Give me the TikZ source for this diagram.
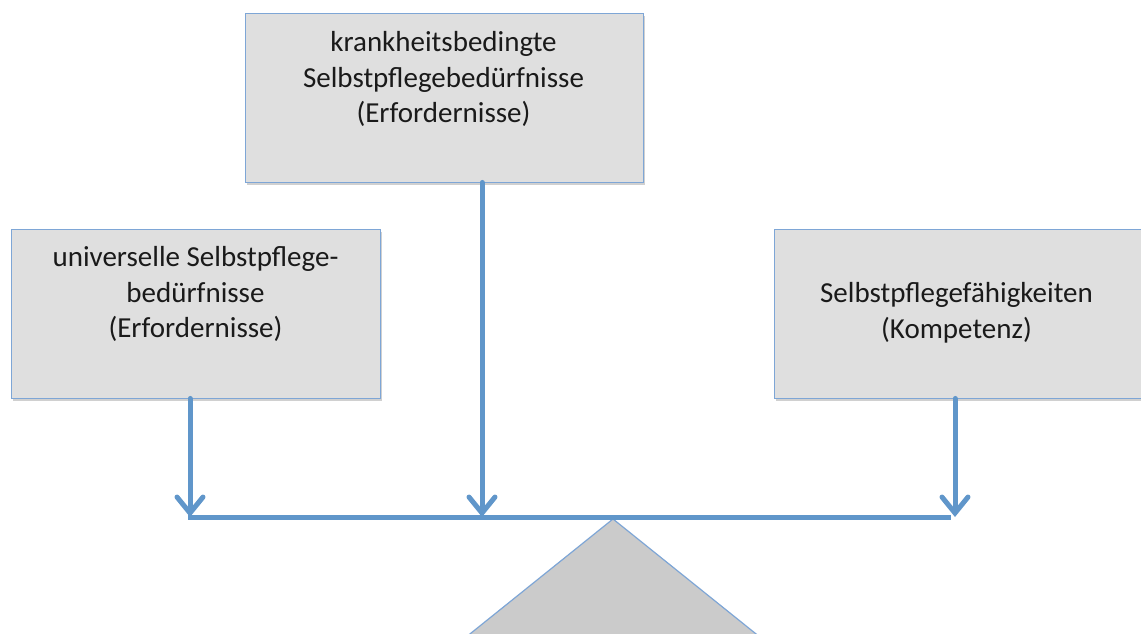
\documentclass[tikz,border=0pt]{standalone}
\usepackage{fontspec}
\setmainfont{Carlito}
\usetikzlibrary{arrows.meta,shadows}
\definecolor{linkblue}{HTML}{6096CA}
\definecolor{edgeblue}{HTML}{7EA6D6}
\definecolor{boxgray}{HTML}{DFDFDF}
\definecolor{trigray}{HTML}{CBCBCB}
\definecolor{textgray}{HTML}{1A1A1A}
\tikzset{
  box/.style={draw=edgeblue, line width=0.9pt, fill=boxgray, minimum height=169pt,
    inner sep=0pt,
    drop shadow={shadow xshift=2pt, shadow yshift=-3pt, opacity=0.3, fill=black!60}},
  boxtext/.style={anchor=base, align=center, inner sep=0pt, text=textgray,
    font=\fontsize{29}{35.4}\selectfont},
  link/.style={draw=linkblue, line width=5pt, line cap=round},
  linkarrow/.style={link, -{Straight Barb[length=16pt,width=26pt,line cap=round]}},
}
\begin{document}
\begin{tikzpicture}[x=1pt,y=-1pt]
\useasboundingbox (0,0) rectangle (1141,634);
\clip (0,0) rectangle (1141,634);
\fill[white] (0,0) rectangle (1141,634);
% balance triangle
\coordinate (apex) at (613,519);
\coordinate (tl) at (445,654);
\coordinate (tr) at (781,654);
\filldraw[fill=trigray, draw=edgeblue, line width=1.2pt] (apex) -- (tl) -- (tr) -- cycle;
% boxes
\node[box, minimum width=398pt] (top) at (444,97.5) {};
\node[box, minimum width=369pt] (left) at (195.5,313.5) {};
\node[box, minimum width=370pt] (right) at (959,313.5) {};
% texts (anchored at the baseline of the last line)
\node[boxtext] (topText) at (443.5,122.5) {krankheitsbedingte\\Selbstpflegebedürfnisse\\(Erfordernisse)};
\node[boxtext] (leftText) at (195.5,337.5) {universelle Selbstpflege-\\bedürfnisse\\(Erfordernisse)};
\node[boxtext] (rightText) at (956.5,338) {Selbstpflegefähigkeiten\\(Kompetenz)};
% bar
\coordinate (barL) at (190,517);
\coordinate (barM) at (482,517);
\coordinate (barR) at (955,517);
\draw[link, line cap=butt] ([xshift=-2pt]barL) -- ([xshift=-4pt]barR);
% arrows
\draw[linkarrow] (left.south -| barL) -- (barL);
\draw[linkarrow] (top.south -| barM) -- (barM);
\draw[linkarrow] (right.south -| barR) -- (barR);
\end{tikzpicture}
\end{document}
